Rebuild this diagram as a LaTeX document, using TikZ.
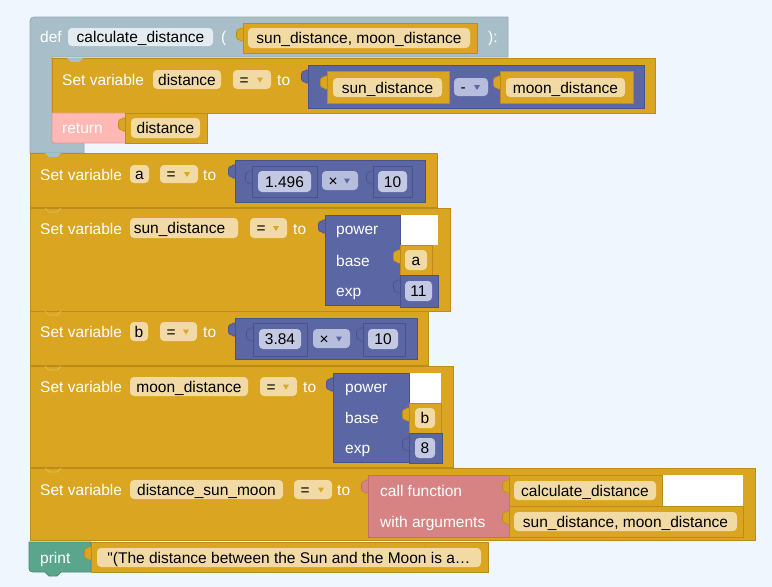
\documentclass[tikz,border=0pt]{standalone}
\usepackage{fontspec}
\setmainfont{Liberation Sans}[Ligatures=TeXOff]
\definecolor{bg}{HTML}{EFF6FD}
\definecolor{orng}{HTML}{DAA520}
\definecolor{orngd}{HTML}{BC8C1A}
\definecolor{orngA}{HTML}{D9A52A}
\definecolor{orngL}{HTML}{E6BE5E}
\definecolor{fldo}{HTML}{F1DAA3}
\definecolor{blu}{HTML}{5B67A5}
\definecolor{blud}{HTML}{48538C}
\definecolor{fldb}{HTML}{C3C8E3}
\definecolor{ddb}{HTML}{B7BDDC}
\definecolor{defc}{HTML}{A8BFCA}
\definecolor{defd}{HTML}{93AAB5}
\definecolor{deff}{HTML}{E3ECF0}
\definecolor{retc}{HTML}{FFB8B4}
\definecolor{retd}{HTML}{E5A09C}
\definecolor{callc}{HTML}{D88383}
\definecolor{calld}{HTML}{BF6E6E}
\definecolor{prtc}{HTML}{5BA58C}
\definecolor{prtd}{HTML}{4A8C76}
\newcommand\blkfont{\fontsize{15.5}{18}\selectfont}
\tikzset{
 lbl/.style={text=white, font=\blkfont, inner sep=0pt, anchor=base west},
 ftx/.style={text=black, font=\blkfont, inner sep=0pt, anchor=base},
 ostmt/.style={fill=orng, draw=orngd, line width=0.8pt},
 ovalblk/.style={fill=orng, draw=orngd, line width=0.8pt},
 bvalblk/.style={fill=blu, draw=blud, line width=0.8pt},
 fldO/.style={fill=fldo, rounded corners=4pt},
 fldB/.style={fill=fldb, rounded corners=4pt},
 fldBd/.style={fill=ddb, rounded corners=4pt},
 fldD/.style={fill=deff, rounded corners=4pt},
 notchln/.style={draw=orngL, line width=0.7pt},
}
\newcommand\tabb[4]{\draw[fill=#3, draw=#4, line width=0.6pt] (#1+0.5,#2+5) -- (#1-2,#2+5) .. controls (#1-2,#2+6.5) and (#1-6.5,#2+5.5) .. (#1-6.5,#2+9) -- (#1-6.5,#2+14) .. controls (#1-6.5,#2+17.5) and (#1-2,#2+16.5) .. (#1-2,#2+18) -- (#1+0.5,#2+18);}
\newcommand\fldO[6]{\path[fldO] (#2,#3) rectangle (#4,#5); \node[ftx] (#1) at ({(#2+#4)/2},{(#3+#5)/2+5.5}) {#6};}
\newcommand\fldB[6]{\path[fldB] (#2,#3) rectangle (#4,#5); \node[ftx] (#1) at ({(#2+#4)/2},{(#3+#5)/2+5.5}) {#6};}
\newcommand\ddn[8]{\path[#6] (#2,#3) rectangle (#4,#5); \node[ftx, anchor=base west] (#1) at ({#2+6.5},{(#3+#5)/2+5.5}) {#7};
 \fill[#8] ({#4-14},{(#3+#5)/2-2}) -- ({#4-8},{(#3+#5)/2-2}) -- ({#4-11},{(#3+#5)/2+3}) -- cycle;}
\begin{document}
\begin{tikzpicture}[x=1pt,y=-1pt]
\fill[bg] (0,0) rectangle (772,587);
\useasboundingbox (0,0) rectangle (772,587);

% ---- def block
\draw[fill=defc, draw=defd, line width=0.8pt] (30,153) -- (30,26) .. controls (30,17) .. (39,17) -- (508,17) -- (508,57) -- (52,57) -- (52,143) -- (84,143) -- (84,153) -- cycle;
\node[lbl] (kdef) at (40,42.5) {def};
\path[fldD] (68,28) rectangle (213,46);
\node[ftx] (fname) at (140.5,42.5) {calculate\_distance};
\node[lbl] (lpar) at (221,42.5) {(};
\tabb{243}{23}{orng}{orngd}
\draw[ovalblk] (243,23) rectangle (477,53);
\fldO{dargs}{248}{28}{470}{48}{sun\_distance, moon\_distance}
\node[lbl] (rpar) at (488,42.5) {):};

% ---- set distance
\draw[ostmt] (52,58) rectangle (655,113);
\fill[defc] (67,58) -- (71,62) -- (79,62) -- (83,58) -- cycle;
\node[lbl] (sv1) at (62,85) {Set variable};
\fldO{v1}{153}{70}{221}{89}{distance}
\ddn{eq1}{233}{70}{271}{89}{fldO}{=}{orngA}
\node[lbl] (to1) at (277,85) {to};
\tabb{308}{65}{blu}{blud}
\draw[bvalblk] (308,65) rectangle (644,108);
\tabb{327}{71}{orng}{orngd}
\draw[ovalblk] (327,71) rectangle (449,103);
\fldO{m1}{333}{78}{442}{97}{sun\_distance}
\ddn{op1}{454}{78}{488}{96}{fldBd}{-}{blu}
\tabb{500}{71}{orng}{orngd}
\draw[ovalblk] (500,71) rectangle (633,103);
\fldO{m2}{506}{78}{625}{97}{moon\_distance}

% ---- return
\draw[fill=retc, draw=retd, line width=0.8pt] (125,113) -- (52,113) -- (52,137) .. controls (52,143) .. (58,143) -- (125,143);
\node[lbl] (kret) at (62,133.5) {return};
\tabb{125}{113}{orng}{orngd}
\draw[ovalblk] (125,113) rectangle (207,143);
\fldO{rv}{131}{118}{200}{138}{distance}

% ---- set a
\draw[ostmt] (30,153) rectangle (437,207);
\fill[defc] (45,153) -- (49,157) -- (57,157) -- (61,153) -- cycle;
\node[lbl] (sv2) at (40,180) {Set variable};
\fldO{v2}{130}{165}{149}{183}{a}
\ddn{eq2}{160}{165}{198}{183}{fldO}{=}{orngA}
\node[lbl] (to2) at (203,180) {to};
\tabb{235}{160}{blu}{blud}
\draw[bvalblk] (235,160) rectangle (425,202);
\tabb{252}{166}{blu}{blud}
\draw[bvalblk] (252,166) rectangle (317,197);
\fldB{n1}{258}{171}{311}{192}{1.496}
\ddn{op2}{322}{171}{358}{190}{fldBd}{×}{blu}
\tabb{373}{166}{blu}{blud}
\draw[bvalblk] (373,166) rectangle (412,197);
\fldB{n2}{378}{171}{407}{192}{10}

% ---- set sun_distance
\draw[ostmt] (30,208) rectangle (450,311);
\node[lbl] (sv3) at (40,234) {Set variable};
\fldO{v3}{130}{218}{238}{238}{sun\_distance\kern9pt}
\ddn{eq3}{250}{218}{287}{238}{fldO}{=}{orngA}
\node[lbl] (to3) at (293,234) {to};
\fill[white] (400,215) rectangle (438,245);
\tabb{325}{215}{blu}{blud}
\draw[bvalblk] (325,215) rectangle (400,305);
\node[lbl] (pw1) at (336,234) {power};
\node[lbl] (bs1) at (336,266) {base};
\node[lbl] (ex1) at (336,296) {exp};
\tabb{400}{245}{orng}{orngd}
\draw[ovalblk] (400,245) rectangle (432,275);
\fldO{a1}{405}{250}{427}{270}{a}
\tabb{400}{275}{blu}{blud}
\draw[bvalblk] (400,275) rectangle (438,307);
\fldB{e1}{405}{281}{432}{301}{11}

% ---- set b
\draw[ostmt] (30,311) rectangle (428,365);
\node[lbl] (sv4) at (40,337) {Set variable};
\fldO{v4}{130}{322}{148}{341}{b}
\ddn{eq4}{160}{322}{197}{341}{fldO}{=}{orngA}
\node[lbl] (to4) at (203,337) {to};
\tabb{235}{318}{blu}{blud}
\draw[bvalblk] (235,318) rectangle (417,359);
\tabb{253}{323}{blu}{blud}
\draw[bvalblk] (253,323) rectangle (307,356);
\fldB{n3}{259}{329}{301}{349}{3.84}
\ddn{op3}{313}{329}{350}{348}{fldBd}{×}{blu}
\tabb{363}{323}{blu}{blud}
\draw[bvalblk] (363,323) rectangle (405,356);
\fldB{n4}{368}{329}{398}{349}{10}

% ---- set moon_distance
\draw[ostmt] (30,366) rectangle (453,467);
\node[lbl] (sv5) at (40,392) {Set variable};
\fldO{v5}{130}{377}{248}{396}{moon\_distance}
\ddn{eq5}{260}{377}{297}{396}{fldO}{=}{orngA}
\node[lbl] (to5) at (303,392) {to};
\fill[white] (409,373) rectangle (441,403);
\tabb{333}{373}{blu}{blud}
\draw[bvalblk] (333,373) rectangle (409,462);
\node[lbl] (pw2) at (345,392) {power};
\node[lbl] (bs2) at (345,423.5) {base};
\node[lbl] (ex2) at (345,453.5) {exp};
\tabb{409}{403}{orng}{orngd}
\draw[ovalblk] (409,403) rectangle (441,433);
\fldO{b1}{415}{408}{435}{428}{b}
\tabb{409}{433}{blu}{blud}
\draw[bvalblk] (409,433) rectangle (442,463);
\fldB{e2}{415}{438}{435}{458}{8}

% ---- set distance_sun_moon
\draw[ostmt] (30,468) rectangle (755,540);
\node[lbl] (sv6) at (40,495) {Set variable};
\fldO{v6}{130}{480}{283}{499}{distance\_sun\_moon}
\ddn{eq6}{294}{480}{332}{499}{fldO}{=}{orngA}
\node[lbl] (to6) at (337,495) {to};
\fill[white] (662,475) rectangle (743,506);
\tabb{368}{475}{callc}{calld}
\draw[fill=callc, draw=calld, line width=0.8pt] (368,475) rectangle (509,537);
\node[lbl] (cf) at (380,496) {call function};
\node[lbl] (wa) at (380,527) {with arguments};
\tabb{509}{475}{orng}{orngd}
\draw[ovalblk] (509,475) rectangle (662,506);
\fldO{cfn}{514}{481}{656}{500}{calculate\_distance}
\tabb{509}{506}{orng}{orngd}
\draw[ovalblk] (509,506) rectangle (743,537);
\fldO{cargs}{514}{512}{737}{531}{sun\_distance, moon\_distance}

% ---- print
\draw[fill=prtc, draw=prtd, line width=0.8pt] (29,542) -- (91,542) -- (91,572) -- (61,572) -- (57,576) -- (49,576) -- (45,572) -- (37,572) .. controls (29,572) .. (29,564) -- cycle;
\node[lbl] (kpr) at (40,563) {print};
\tabb{91}{542}{orng}{orngd}
\draw[ovalblk] (91,542) rectangle (488,572);
\fldO{str}{97}{548}{481}{567}{"(The distance between the Sun and the Moon is a…}

% ---- statement notches
\foreach \ny in {208,311,366,468}{\draw[notchln] (45,\ny) -- (49,\ny+4) -- (57,\ny+4) -- (61,\ny);}
\end{tikzpicture}
\end{document}
